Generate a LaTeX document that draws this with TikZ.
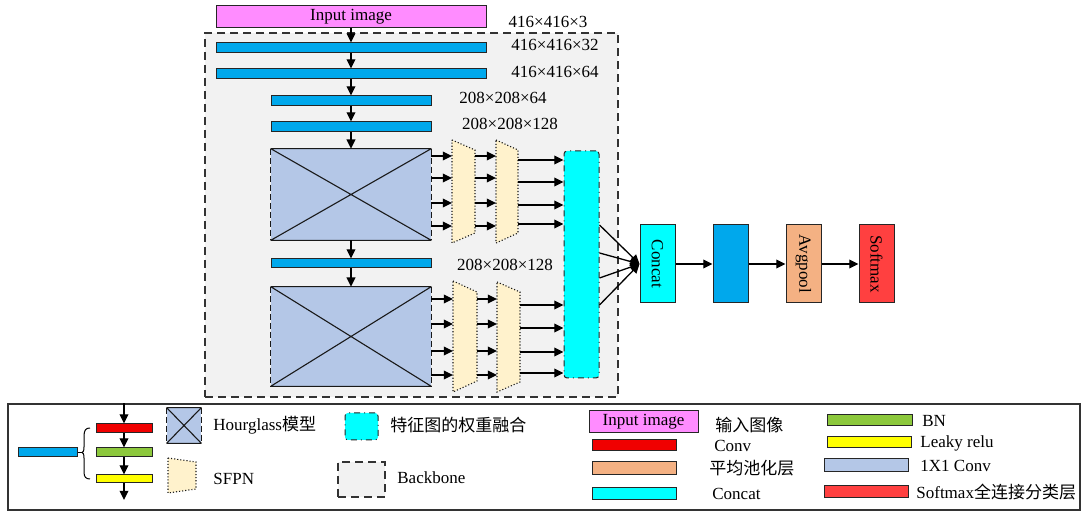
\documentclass[tikz,border=0pt]{standalone}
\usepackage{fontspec}
\setmainfont{Liberation Serif}
\newfontfamily\cjk{Noto Sans CJK SC}
\usepackage{tikz}
\usetikzlibrary{arrows.meta}

\definecolor{inpink}{HTML}{FF8CFF}
\definecolor{convblue}{HTML}{00A8EC}
\definecolor{hgblue}{HTML}{B4C7E7}
\definecolor{sfpncream}{HTML}{FFF2CC}
\definecolor{catcyan}{HTML}{00FFFF}
\definecolor{bbgray}{HTML}{F2F2F2}
\definecolor{poolorange}{HTML}{F4B183}
\definecolor{softred}{HTML}{FF4040}
\definecolor{convred}{HTML}{F00000}
\definecolor{bngreen}{HTML}{8CC83C}
\definecolor{reluyellow}{HTML}{FFFF00}

\tikzset{
  bar/.style={draw=black!85, line width=0.5pt, inner sep=0pt},
  arr/.style={-{Triangle[length=4.6pt,width=4.4pt]}, line width=0.65pt},
  hgline/.style={line width=0.55pt, black!90},
  sfpnbox/.style={fill=sfpncream, draw=black!90, line width=0.55pt, densely dotted},
  catbox/.style={bar, fill=catcyan, rounded corners=1.5pt, dash dot},
  bbbox/.style={draw=black!80, fill=bbgray, line width=0.6pt, dash pattern=on 4pt off 2.5pt, inner sep=0pt},
  dimlabel/.style={inner sep=0pt},
  legtext/.style={anchor=west, inner sep=0pt}
}

\newcommand\hgcross[1]{%
  \draw[hgline] (#1.north west) -- (#1.north east) (#1.south west) -- (#1.south east)
    (#1.north west) -- (#1.south east) (#1.south west) -- (#1.north east);
  \draw[hgline, dash pattern=on 3pt off 1.5pt] (#1.north west) -- (#1.south west)
    (#1.north east) -- (#1.south east);}

\newcommand\sfpn[6]{%
  \draw[sfpnbox] (#2,#3) coordinate (#1-nw) -- ++(#4,#6) coordinate (#1-ne)
    -- ++(0,{#5-2*#6}) coordinate (#1-se) -- ++(-#4,#6) coordinate (#1-sw) -- cycle;}

\begin{document}
\begin{tikzpicture}[x=0.5pt, y=-0.5pt, font=\fontsize{8.5}{10}\selectfont]
  \useasboundingbox (0,0) rectangle (1083,512);

  % backbone and its layers
  \node[bbbox, minimum width=206.5pt, minimum height=182pt] (bb) at (411.5,215) {};
  \node[bar, fill=inpink, minimum width=135pt, minimum height=11pt] (input) at (351,17) {Input image};
  \node[bar, fill=convblue, minimum width=135pt, minimum height=5pt] (c1) at (351,48) {};
  \node[bar, fill=convblue, minimum width=135pt, minimum height=5pt] (c2) at (351,74) {};
  \node[bar, fill=convblue, minimum width=80pt, minimum height=5pt] (c3) at (351,101) {};
  \node[bar, fill=convblue, minimum width=80pt, minimum height=5pt] (c4) at (351,127) {};
  \node[fill=hgblue, inner sep=0pt, minimum width=80pt, minimum height=45.5pt] (hg1) at (351,194.5) {};
  \hgcross{hg1}
  \node[bar, fill=convblue, minimum width=80pt, minimum height=4.5pt] (c5) at (351,263.5) {};
  \node[fill=hgblue, inner sep=0pt, minimum width=80pt, minimum height=49.5pt] (hg2) at (351,336.5) {};
  \hgcross{hg2}

  \draw[arr] (input) -- (c1);
  \draw[arr] (c1) -- (c2);
  \draw[arr] (c2) -- (c3);
  \draw[arr] (c3) -- (c4);
  \draw[arr] (c4) -- (hg1);
  \draw[arr] (hg1) -- (c5);
  \draw[arr] (c5) -- (hg2);

  \node[dimlabel] (d0) at (548,22) {416×416×3};
  \node[dimlabel] (d1) at (555,45) {416×416×32};
  \node[dimlabel] (d2) at (555,72) {416×416×64};
  \node[dimlabel] (d3) at (503,98) {208×208×64};
  \node[dimlabel] (d4) at (510,124) {208×208×128};
  \node[dimlabel] (d5) at (505,265) {208×208×128};

  % SFPN stages
  \sfpn{s1}{452}{140}{23}{103}{10}
  \sfpn{s2}{496}{140}{22}{103}{10}
  \sfpn{s3}{453}{281}{24}{111}{11}
  \sfpn{s4}{497}{282}{23}{110}{10}
  \node[catbox, minimum width=17.5pt, minimum height=113.5pt] (cat) at (581.5,264.5) {};

  \foreach \y in {156,178,203,226} {
    \draw[arr] (hg1.east |- 0,\y) -- (s1-nw |- 0,\y);
    \draw[arr] (s1-ne |- 0,\y) -- (s2-nw |- 0,\y);
  }
  \foreach \y in {160,182,205,224}
    \draw[arr] (s2-ne |- 0,\y) -- (cat.west |- 0,\y);
  \foreach \y in {299,324,351,375} {
    \draw[arr] (hg2.east |- 0,\y) -- (s3-nw |- 0,\y);
    \draw[arr] (s3-ne |- 0,\y) -- (s4-nw |- 0,\y);
  }
  \foreach \y in {305,328,352,373}
    \draw[arr] (s4-ne |- 0,\y) -- (cat.west |- 0,\y);

  % head
  \node[bar, fill=catcyan, minimum width=17.5pt, minimum height=39pt] (cat2) at (657.5,264) {\rotatebox{-90}{Concat}};
  \node[bar, fill=convblue, minimum width=17.5pt, minimum height=39pt] (fc) at (730.5,264) {};
  \node[bar, fill=poolorange, minimum width=17.5pt, minimum height=39pt] (avg) at (803.5,264) {\rotatebox{-90}{Avgpool}};
  \node[bar, fill=softred, minimum width=17.5pt, minimum height=39pt] (soft) at (876.5,264) {\rotatebox{-90}{Softmax}};
  \foreach \y in {225,253,278,305}
    \draw[arr] (cat.east |- 0,\y) -- (cat2.west);
  \draw[arr] (cat2) -- (fc);
  \draw[arr] (fc) -- (avg);
  \draw[arr] (avg) -- (soft);

  % legend
  \node[draw=black!80, line width=0.6pt, inner sep=0pt, minimum width=536pt, minimum height=53pt] (legend) at (544,457) {};
  \node[bar, fill=convblue, minimum width=29.5pt, minimum height=4.5pt] (lb) at (47.5,452.5) {};
  \draw[line width=0.5pt] (90,428) .. controls (86,428) and (84,430) .. (84,436) -- (84,447)
    .. controls (84,451) and (83,452.5) .. (82,452.5) coordinate (brtip)
    .. controls (83,452.5) and (84,454) .. (84,458) -- (84,472)
    .. controls (84,477) and (86,479) .. (90,479);
  \draw[line width=0.5pt] (lb.east) -- (brtip);
  \node[bar, fill=convred, minimum width=28pt, minimum height=4.5pt] (lr) at (124,428.5) {};
  \node[bar, fill=bngreen, minimum width=28pt, minimum height=4.5pt] (lg) at (124,452.5) {};
  \node[bar, fill=reluyellow, minimum width=28pt, minimum height=4pt] (ly) at (124,479) {};
  \coordinate (lend) at (124,500);
  \draw[arr] (legend.north -| lr.north) -- (lr);
  \draw[arr] (lr) -- (lg);
  \draw[arr] (lg) -- (ly);
  \draw[arr] (ly) -- (lend);

  \node[fill=hgblue, inner sep=0pt, minimum width=17pt, minimum height=17.5pt] (hgl) at (184,425.5) {};
  \hgcross{hgl}
  \node[legtext] (thg) at (213,425) {Hourglass{\cjk 模型}};
  \sfpn{sl}{168}{458}{28}{35}{4}
  \node[legtext] (tsf) at (213,479) {SFPN};
  \node[catbox, minimum width=16.5pt, minimum height=13.5pt] (lcat) at (361.5,426.5) {};
  \node[legtext] (tcat) at (390,425) {\cjk 特征图的权重融合};
  \node[bbbox, minimum width=23.5pt, minimum height=17.5pt] (lbb) at (361.5,479.5) {};
  \node[legtext] (tbb) at (397,478) {Backbone};

  \node[bar, fill=inpink, minimum width=54.5pt, minimum height=11pt] (lin) at (643.5,422) {Input image};
  \node[legtext] (tin) at (715,425) {\cjk 输入图像};
  \node[bar, fill=convred, minimum width=42pt, minimum height=5.5pt] (lcv) at (634,445.5) {};
  \node[legtext] (tcv) at (714,446) {Conv};
  \node[bar, fill=poolorange, minimum width=42pt, minimum height=6.5pt] (lpool) at (634,468.5) {};
  \node[legtext] (tpool) at (709,468) {\cjk 平均池化层};
  \node[bar, fill=catcyan, minimum width=42pt, minimum height=6pt] (lcc) at (634,494) {};
  \node[legtext] (tcc) at (712,494) {Concat};

  \node[bar, fill=bngreen, minimum width=42.5pt, minimum height=5.5pt] (lbn) at (869.5,420.5) {};
  \node[legtext] (tbn) at (922,421) {BN};
  \node[bar, fill=reluyellow, minimum width=42pt, minimum height=5.5pt] (lrelu) at (869,442.5) {};
  \node[legtext] (trelu) at (920,443) {Leaky relu};
  \node[bar, fill=hgblue, minimum width=42pt, minimum height=6.5pt] (lone) at (866,465.5) {};
  \node[legtext] (tone) at (920,466) {1X1 Conv};
  \node[bar, fill=softred, minimum width=42pt, minimum height=6pt] (lsm) at (866,492) {};
  \node[legtext] (tsm) at (916,492) {Softmax{\cjk 全连接分类层}};
\end{tikzpicture}
\end{document}
